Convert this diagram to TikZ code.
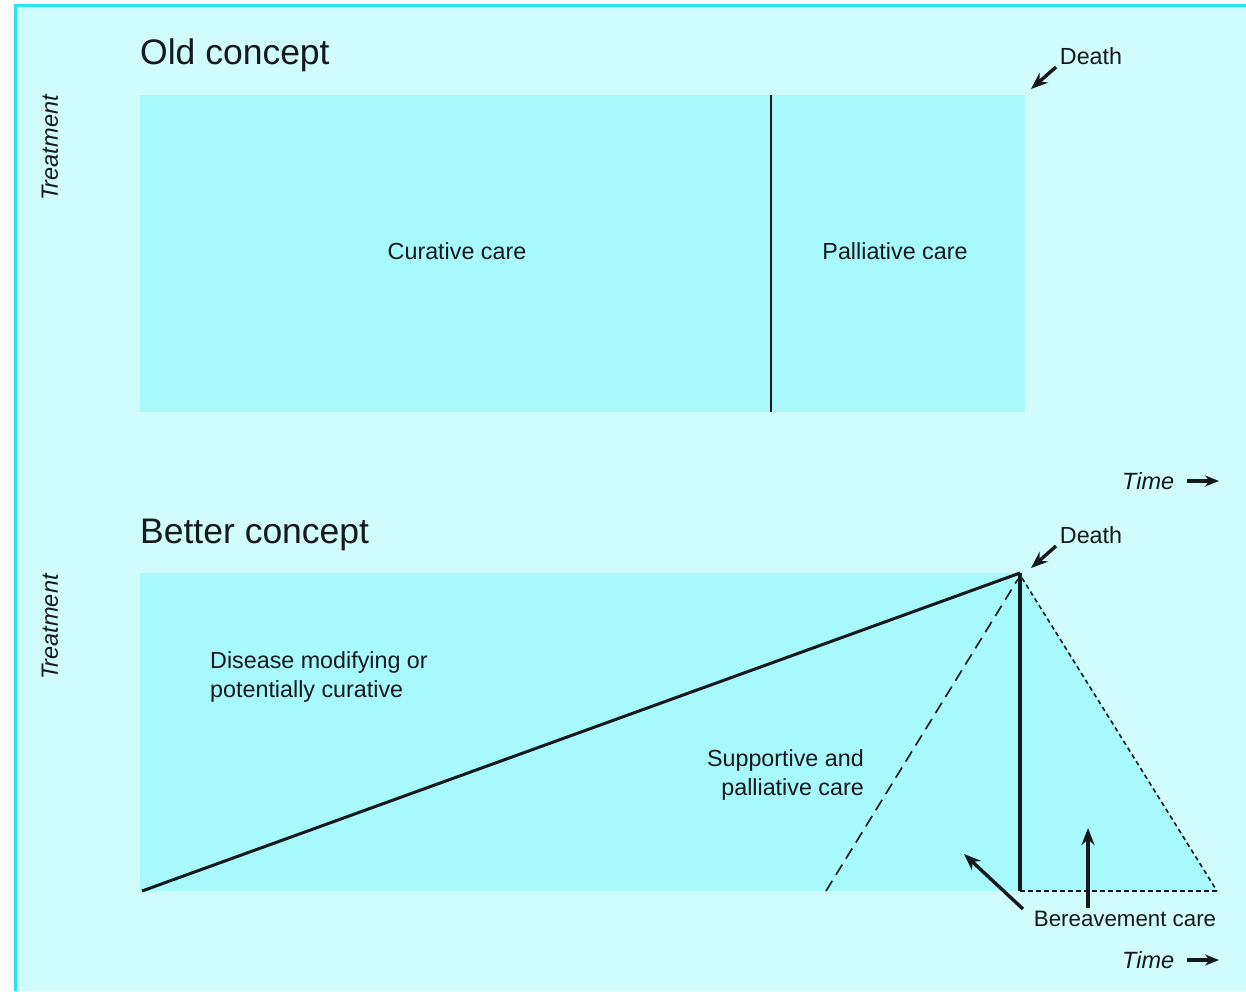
\documentclass[tikz,border=0pt]{standalone}
\usepackage{fontspec}
\setmainfont{Liberation Sans}
\usetikzlibrary{arrows.meta}
\definecolor{bgc}{RGB}{208,252,253}
\definecolor{boxc}{RGB}{168,249,252}
\definecolor{framec}{RGB}{40,228,240}
\definecolor{inkc}{RGB}{20,25,30}
\tikzset{
  lbl/.style={inner sep=0pt, text=inkc, font=\fontsize{23.3}{29}\selectfont},
  ttl/.style={inner sep=0pt, text=inkc, anchor=base west, font=\fontsize{35.5}{40}\selectfont},
  axl/.style={inner sep=0pt, text=inkc, font=\fontsize{23.5}{28}\selectfont\itshape},
  pointer/.style={line width=3.4pt, draw=inkc, -{Stealth[length=17pt,width=13pt]}},
  timearrow/.style={line width=3.2pt, draw=inkc, -{Stealth[length=14pt,width=11pt]}},
  boxfill/.style={fill=boxc, draw=none},
}
\begin{document}
\begin{tikzpicture}[x=1pt,y=-1pt]
\useasboundingbox (0,0) rectangle (1246,991);
% background and frame
\fill[white] (0,0) rectangle (1246,991);
\fill[bgc] (15,5) rectangle (1246,991);
\draw[framec, line width=3pt] (15,991) -- (15,5) -- (1246,5);

% ---------- Old concept ----------
\node[ttl] (oldt) at (140,64) {Old concept};
\coordinate (oTL) at (140,95);
\coordinate (oBR) at (1025,412);
\fill[boxfill] (oTL) rectangle (oBR);
\coordinate (divT) at (771,95);
\coordinate (divB) at (771,412);
\draw[inkc, line width=2.6pt] (divT) -- (divB);
\node[lbl] (cur) at (457,251) {Curative care};
\node[lbl] (pal) at (895,251) {Palliative care};
\node[axl, rotate=90] (treat1) at (50,148) {Treatment};
\node[lbl] (death1) at (1091,56) {Death};
\coordinate (d1tail) at (1056,67);
\coordinate (d1tip) at (1031,89);
\draw[pointer] (d1tail) -- (d1tip);
\node[axl, anchor=base west] (time1) at (1122,489) {Time};
\coordinate (t1a) at (1187,481);
\coordinate (t1b) at (1219,481);
\draw[timearrow] (t1a) -- (t1b);

% ---------- Better concept ----------
\node[ttl] (bett) at (140,543) {Better concept};
\coordinate (bTL) at (140,573);
\coordinate (bBR) at (1020,891);
\coordinate (apex) at (1020,573);
\coordinate (foot) at (1020,891);
\coordinate (endB) at (1217,891);
\coordinate (start) at (142,891);
\coordinate (dashB) at (826,891);
\fill[boxfill] (bTL) rectangle (bBR);
\fill[boxfill] (apex) -- (endB) -- (foot) -- cycle;
\draw[inkc, line width=3pt] (start) -- (apex);
\draw[inkc, line width=3.6pt] (apex) -- (foot);
\draw[inkc, line width=1.6pt, dash pattern=on 12pt off 7pt] (dashB) -- (1018,579);
\draw[inkc, line width=1.6pt, dash pattern=on 4.5pt off 3.5pt] (1022,578) -- (endB);
\draw[inkc, line width=1.6pt, dash pattern=on 4.5pt off 3.5pt] (foot) -- (endB);

\node[axl, rotate=90] (treat2) at (50,627) {Treatment};
\node[lbl, anchor=base west, align=left] (dis) at (210,697) {Disease modifying or\\potentially curative};
\node[lbl, anchor=base east, align=right] (sup) at (864,795) {Supportive and\\palliative care};
\node[lbl] (death2) at (1091,535) {Death};
\coordinate (d2tail) at (1056,546);
\coordinate (d2tip) at (1031,568);
\draw[pointer] (d2tail) -- (d2tip);

\node[lbl, font=\fontsize{22.3}{26}\selectfont] (ber) at (1125,919) {Bereavement care};
\coordinate (b1tail) at (1023,909);
\coordinate (b1tip) at (964,854);
\draw[pointer] (b1tail) -- (b1tip);
\coordinate (b2tail) at (1088,908);
\coordinate (b2tip) at (1088,828);
\draw[pointer] (b2tail) -- (b2tip);

\node[axl, anchor=base west] (time2) at (1122,968) {Time};
\coordinate (t2a) at (1187,960);
\coordinate (t2b) at (1219,960);
\draw[timearrow] (t2a) -- (t2b);
\end{tikzpicture}
\end{document}
